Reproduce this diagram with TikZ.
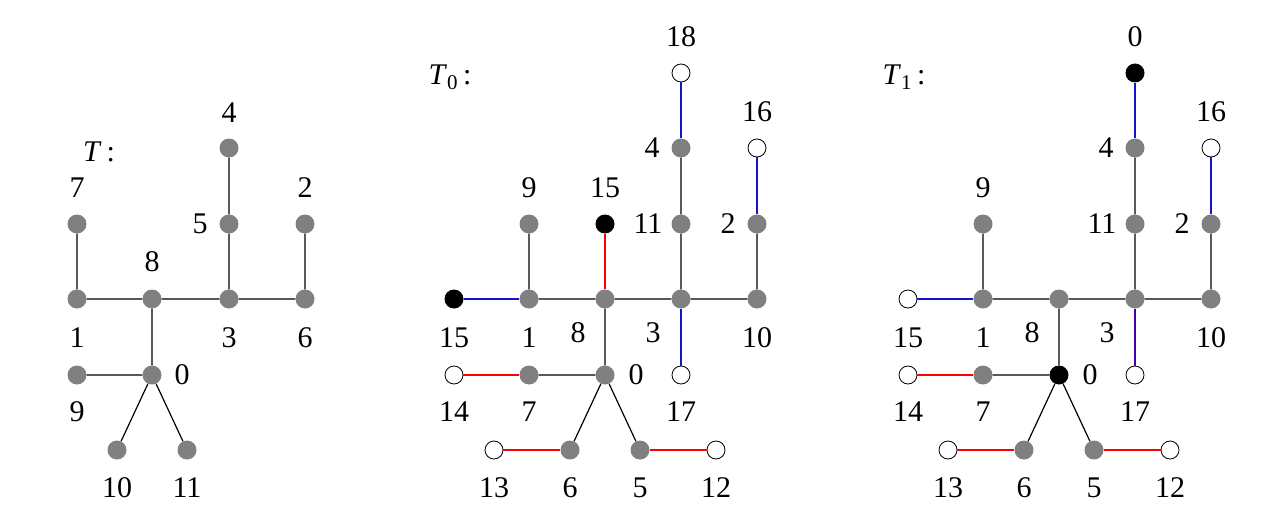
\documentclass[tikz,border=0pt]{standalone}
\usepackage{fontspec}
\setmainfont{Liberation Serif}
\begin{document}
\begin{tikzpicture}[x=1pt,y=-1pt,
  v/.style={circle,fill=gray,minimum size=19pt,inner sep=0pt},
  bv/.style={circle,fill=black,minimum size=19pt,inner sep=0pt},
  wv/.style={circle,draw=black,fill=white,minimum size=18pt,inner sep=0pt,line width=0.8pt},
  lb/.style={font=\fontsize{30}{34}\selectfont},
  e/.style={line width=1.2pt},
  re/.style={line width=1.2pt,red},
  be/.style={line width=1.2pt,color={rgb,255:red,20;green,20;blue,200}}]
\useasboundingbox (0,0) rectangle (1278,519);
% ---- T
\node[lb] (tT) at (99,152) {\textit{T}\,:};
\node[v] (a7) at (77,224) {}; \node[lb] at (77,188) {7};
\node[v] (a1) at (77,299) {}; \node[lb] at (77,338) {1};
\node[v] (a8) at (152,299) {}; \node[lb] at (152,262) {8};
\node[v] (a3) at (229,299) {}; \node[lb] at (229,338) {3};
\node[v] (a6) at (305,299) {}; \node[lb] at (305,338) {6};
\node[v] (a5) at (229,224) {}; \node[lb] at (200,224) {5};
\node[v] (a4) at (229,148) {}; \node[lb] at (229,113) {4};
\node[v] (a2) at (305,224) {}; \node[lb] at (305,188) {2};
\node[v] (a0) at (152,375) {}; \node[lb] at (182,375) {0};
\node[v] (a9) at (77,375) {}; \node[lb] at (77,412) {9};
\node[v] (a10) at (117,450) {}; \node[lb] at (117,488) {10};
\node[v] (a11) at (187,450) {}; \node[lb] at (187,488) {11};
\draw[e] (a7)--(a1) (a1)--(a8) (a8)--(a3) (a3)--(a6) (a6)--(a2) (a3)--(a5) (a5)--(a4) (a8)--(a0) (a9)--(a0) (a0)--(a10) (a0)--(a11);
% ---- T0
\node[lb] (tT0) at (450,77) {\textit{T}\textsubscript{0}\,:};
\node[bv] (b15) at (454,299) {}; \node[lb] at (454,338) {15};
\node[v] (b1) at (529,299) {}; \node[lb] at (529,338) {1};
\node[v] (b9) at (529,224) {}; \node[lb] at (529,188) {9};
\node[v] (b8) at (605,299) {}; \node[lb] at (578,333) {8};
\node[bv] (b15b) at (605,224) {}; \node[lb] at (605,188) {15};
\node[v] (b3) at (681,299) {}; \node[lb] at (653,333) {3};
\node[v] (b11) at (681,224) {}; \node[lb] at (648,224) {11};
\node[v] (b4) at (681,148) {}; \node[lb] at (652,148) {4};
\node[wv] (b18) at (681,73) {}; \node[lb] at (681,37) {18};
\node[wv] (b17) at (681,375) {}; \node[lb] at (681,412) {17};
\node[v] (b10) at (757,299) {}; \node[lb] at (757,338) {10};
\node[v] (b2) at (757,224) {}; \node[lb] at (728,224) {2};
\node[wv] (b16) at (757,148) {}; \node[lb] at (757,112) {16};
\node[v] (b0) at (605,375) {}; \node[lb] at (636,375) {0};
\node[v] (b7) at (529,375) {}; \node[lb] at (529,412) {7};
\node[wv] (b14) at (454,375) {}; \node[lb] at (454,412) {14};
\node[v] (b6) at (570,450) {}; \node[lb] at (570,488) {6};
\node[wv] (b13) at (494,450) {}; \node[lb] at (494,488) {13};
\node[v] (b5) at (640,450) {}; \node[lb] at (640,488) {5};
\node[wv] (b12) at (716,450) {}; \node[lb] at (716,488) {12};
\draw[e] (b9)--(b1) (b1)--(b8) (b8)--(b3) (b3)--(b10) (b10)--(b2) (b3)--(b11) (b11)--(b4) (b8)--(b0) (b7)--(b0) (b0)--(b6) (b0)--(b5);
\draw[be] (b15)--(b1) (b4)--(b18) (b2)--(b16) (b3)--(b17);
\draw[re] (b8)--(b15b) (b14)--(b7) (b13)--(b6) (b5)--(b12);
% ---- T1
\node[lb] (tT1) at (904,77) {\textit{T}\textsubscript{1}\,:};
\node[wv] (c15) at (908,299) {}; \node[lb] at (908,338) {15};
\node[v] (c1) at (983,299) {}; \node[lb] at (983,338) {1};
\node[v] (c9) at (983,224) {}; \node[lb] at (983,188) {9};
\node[v] (c8) at (1059,299) {}; \node[lb] at (1032,333) {8};
\node[v] (c3) at (1135,299) {}; \node[lb] at (1107,333) {3};
\node[v] (c11) at (1135,224) {}; \node[lb] at (1102,224) {11};
\node[v] (c4) at (1135,148) {}; \node[lb] at (1106,148) {4};
\node[bv] (c0t) at (1135,73) {}; \node[lb] at (1135,37) {0};
\node[wv] (c17) at (1135,375) {}; \node[lb] at (1135,412) {17};
\node[v] (c10) at (1211,299) {}; \node[lb] at (1211,338) {10};
\node[v] (c2) at (1211,224) {}; \node[lb] at (1182,224) {2};
\node[wv] (c16) at (1211,148) {}; \node[lb] at (1211,112) {16};
\node[bv] (c0) at (1059,375) {}; \node[lb] at (1090,375) {0};
\node[v] (c7) at (983,375) {}; \node[lb] at (983,412) {7};
\node[wv] (c14) at (908,375) {}; \node[lb] at (908,412) {14};
\node[v] (c6) at (1024,450) {}; \node[lb] at (1024,488) {6};
\node[wv] (c13) at (948,450) {}; \node[lb] at (948,488) {13};
\node[v] (c5) at (1094,450) {}; \node[lb] at (1094,488) {5};
\node[wv] (c12) at (1170,450) {}; \node[lb] at (1170,488) {12};
\draw[e] (c9)--(c1) (c1)--(c8) (c8)--(c3) (c3)--(c10) (c10)--(c2) (c3)--(c11) (c11)--(c4) (c8)--(c0) (c7)--(c0) (c0)--(c6) (c0)--(c5);
\draw[be] (c15)--(c1) (c4)--(c0t) (c2)--(c16);
\draw[line width=1.2pt,color={rgb,255:red,70;green,0;blue,170}] (c3)--(c17);
\draw[re] (c14)--(c7) (c13)--(c6) (c5)--(c12);
\end{tikzpicture}
\end{document}
